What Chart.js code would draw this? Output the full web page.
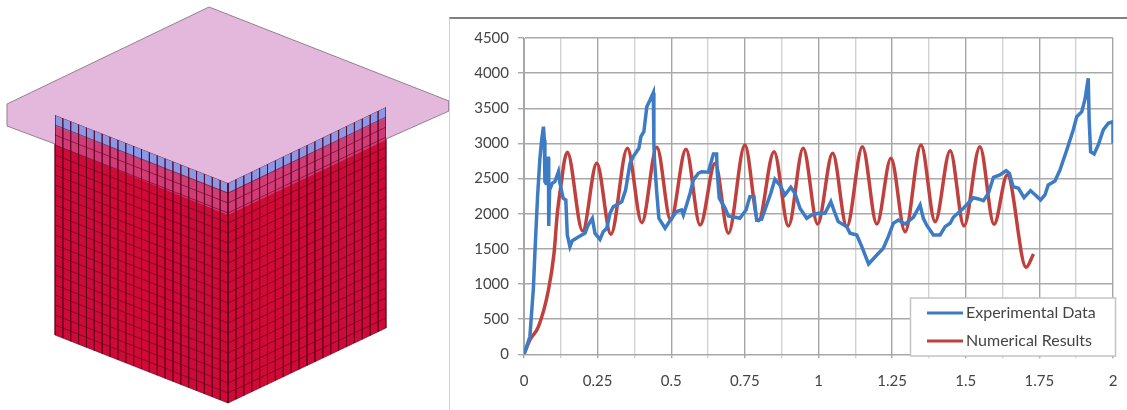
<!DOCTYPE html>
<html>
<head>
<meta charset="utf-8">
<script src="https://cdn.jsdelivr.net/npm/chart.js@4"></script>
<style>
  html, body { margin: 0; background: #fff; overflow: hidden; }
  #mesh { position: absolute; left: 0; top: 0; width: 449px; height: 410px; filter: blur(0.5px); }
  #frame { position: absolute; left: 449px; top: 17px; width: 678px; height: 393px;
           border-top: 2px solid #808080; border-left: 1px solid #d0d0d0; box-sizing: border-box; }
  #curves { position: absolute; left: 0; top: 0; width: 677px; height: 391px; filter: blur(0.4px); }
</style>
</head>
<body>
<div id="mesh"><canvas id="meshCanvas"></canvas></div>
<div id="frame"><div id="curves"><canvas id="curvesCanvas"></canvas></div></div>
<script>
// measured curves
var expTime = [0, .020, .032, .037, .046, .054, .060, .066, .069, .071, .075, .078, .083, .084, .087, .096, .105, .117, .122, .133, .142, .147, .156, .164, .186, .196, .207, .218, .232, .241, .258, .269, .281, .292, .303, .315, .332, .345, .360, .371, .390, .397, .407, .417, .428, .439, .441, .443, .451, .458, .466, .479, .501, .518, .535, .541, .552, .564, .575, .592, .603, .626, .639, .643, .654, .656, .663, .683, .694, .717, .733, .754, .767, .781, .790, .807, .824, .838, .852, .869, .886, .906, .920, .937, .960, .977, .999, 1.022, 1.042, 1.054, 1.067, 1.096, 1.107, 1.130, 1.147, 1.170, 1.198, 1.220, 1.237, 1.254, 1.271, 1.294, 1.322, 1.345, 1.356, 1.367, 1.390, 1.413, 1.430, 1.447, 1.458, 1.492, 1.526, 1.543, 1.560, 1.577, 1.594, 1.616, 1.637, 1.648, 1.661, 1.679, 1.698, 1.720, 1.739, 1.754, 1.769, 1.780, 1.803, 1.820, 1.843, 1.865, 1.877, 1.894, 1.905, 1.916, 1.919, 1.924, 1.936, 1.950, 1.967, 1.984, 2, 2];
var expForce = [0, 250, 950, 1440, 2243, 2789, 3050, 3239, 3050, 2456, 2430, 2789, 2789, 1826, 2338, 2433, 2456, 2598, 2433, 2220, 2196, 1698, 1531, 1617, 1673, 1698, 1722, 1840, 1935, 1722, 1636, 1745, 1793, 2006, 2100, 2125, 2172, 2338, 2718, 2812, 2931, 3096, 3168, 3523, 3618, 3722, 3002, 2764, 2291, 1935, 1880, 1793, 1935, 2030, 2053, 1982, 2125, 2291, 2480, 2575, 2598, 2590, 2789, 2850, 2850, 2598, 2220, 2078, 1968, 1950, 1935, 2053, 2243, 2243, 1911, 1921, 2125, 2291, 2490, 2409, 2267, 2376, 2291, 2078, 1935, 1982, 2006, 2006, 2172, 2030, 1887, 1816, 1722, 1698, 1531, 1285, 1413, 1508, 1673, 1864, 1911, 1854, 1950, 2125, 1935, 1840, 1698, 1698, 1816, 1864, 1950, 2078, 2228, 2210, 2186, 2291, 2519, 2551, 2612, 2575, 2385, 2362, 2228, 2328, 2257, 2196, 2267, 2409, 2466, 2623, 2907, 3192, 3381, 3452, 3629, 3927, 3334, 2883, 2850, 2978, 3192, 3287, 3310, 3000];

var numTime = [0, .020, .049, .083, .102, .113, .128, .137, .147, .199, .247, .295, .351, .400, .451, .498, .550, .598, .649, .694, .750, .796, .849, .898, .948, .997, 1.048, 1.096, 1.149, 1.198, 1.246, 1.294, 1.348, 1.396, 1.447, 1.494, 1.548, 1.596, 1.641, 1.705, 1.730];
var numForce = [0, 203, 393, 915, 1437, 2000, 2480, 2750, 2874, 1754, 2717, 1707, 2930, 1873, 2945, 1911, 2917, 1840, 2718, 1722, 2978, 1901, 2883, 1826, 2931, 1854, 2860, 1816, 2954, 1854, 2789, 1745, 2978, 1887, 2897, 1826, 2954, 1850, 2551, 1238, 1427];

var seriesNames = ['Experimental Data', 'Numerical Results'];
var seriesColors = ['#3d7cc4', '#c0403e'];

// block outline, in picture pixels
var leftFace = [[55, 115], [228, 183], [228, 403], [55, 335]];
var rightFace = [[228, 183], [386, 107], [386, 328], [228, 403]];
var blueLeft = [[55, 115], [228, 183], [228, 193], [55, 126]];
var blueRight = [[228, 183], [386, 107], [386, 118], [228, 193]];
var bandLeft = [[55, 126], [228, 193], [228, 215], [55, 145]];
var bandRight = [[228, 193], [386, 118], [386, 140], [228, 215]];
var plateShape = [[7, 104], [209, 7], [449, 101], [449, 111], [386, 139], [386, 107], [228, 183], [55, 115], [55, 144], [7, 126]];
var plateOutline = [[55, 144], [7, 126], [7, 104], [209, 7], [449, 101], [449, 111], [386, 139]];
var cellsLeft = 22, cellsRight = 20, cellRows = 22;

function xyPairs(xs, ys) {
  return xs.map(function (x, i) { return { x: x, y: ys[i] }; });
}

function toPoints(corners) {
  return corners.map(function (c) { return { x: c[0], y: c[1] }; });
}

function polygon(corners, color) {
  return { data: toPoints(corners.concat([corners[0]])), showLine: true, fill: 'shape', backgroundColor: color,
           borderColor: color, borderWidth: 0, pointRadius: 0, tension: 0 };
}

function gridLines(face, nx, ny) {
  var a = face[0], b = face[1], c = face[2], d = face[3];
  var pts = [];
  function lerp(p, q, t) { return { x: p[0] + (q[0] - p[0]) * t, y: p[1] + (q[1] - p[1]) * t }; }
  for (var i = 0; i <= nx; i++) {
    pts.push(lerp(a, b, i / nx), lerp(d, c, i / nx), { x: null, y: null });
  }
  for (var j = 0; j <= ny; j++) {
    pts.push(lerp(a, d, j / ny), lerp(b, c, j / ny), { x: null, y: null });
  }
  return pts;
}

function meshSet(face, nx, ny) {
  return { data: gridLines(face, nx, ny), showLine: true, fill: false, spanGaps: false,
           borderColor: 'rgba(90, 0, 30, 0.6)', borderWidth: 1, pointRadius: 0, tension: 0 };
}

var meshLayers = [
  polygon(leftFace, '#d00a36'),
  polygon(rightFace, '#cf0a36'),
  polygon(bandLeft, '#d23c76'),
  polygon(bandRight, '#d23c76'),
  polygon(blueLeft, '#8b98e6'),
  polygon(blueRight, '#8b98e6'),
  meshSet(leftFace, cellsLeft, cellRows),
  meshSet(rightFace, cellsRight, cellRows),
  polygon(plateShape, '#e3b8dc'),
  { data: toPoints(plateOutline), showLine: true, fill: false, borderColor: '#93808f', borderWidth: 1, pointRadius: 0, tension: 0 }
];
// last in the list goes on top
meshLayers.forEach(function (ds, i) { ds.order = meshLayers.length - i; });

new Chart(document.getElementById('meshCanvas'), {
  type: 'scatter',
  data: { datasets: meshLayers },
  options: {
    responsive: true,
    maintainAspectRatio: false,
    animation: false,
    layout: { padding: 0 },
    plugins: { legend: { display: false }, tooltip: { enabled: false } },
    scales: {
      x: { type: 'linear', display: false, min: 0, max: 449 },
      y: { type: 'linear', display: false, min: 0, max: 410, reverse: true }
    }
  }
});

// legend sits over the plot, with its own box
var boxLegend = {
  id: 'boxLegend',
  afterDatasetsDraw: function (chart) {
    var ctx = chart.ctx;
    ctx.save();
    ctx.fillStyle = '#fff';
    ctx.strokeStyle = '#c4c4c4';
    ctx.lineWidth = 1.5;
    ctx.fillRect(460.5, 279, 205, 58);
    ctx.strokeRect(460.5, 279, 205, 58);
    ctx.font = '16px Lato';
    ctx.textBaseline = 'middle';
    chart.data.datasets.forEach(function (ds, i) {
      var y = 294 + i * 28;
      ctx.strokeStyle = ds.borderColor;
      ctx.lineWidth = 3;
      ctx.beginPath();
      ctx.moveTo(477, y);
      ctx.lineTo(513, y);
      ctx.stroke();
      ctx.fillStyle = '#444';
      ctx.fillText(ds.label, 516, y);
    });
    ctx.restore();
  }
};

new Chart(document.getElementById('curvesCanvas'), {
  type: 'line',
  data: {
    datasets: [
      { label: seriesNames[0], data: xyPairs(expTime, expForce), borderColor: seriesColors[0],
        backgroundColor: seriesColors[0], borderWidth: 3.5, pointRadius: 0, tension: 0 },
      { label: seriesNames[1], data: xyPairs(numTime, numForce), borderColor: seriesColors[1],
        backgroundColor: seriesColors[1], borderWidth: 3.5, pointRadius: 0, cubicInterpolationMode: 'monotone' }
    ]
  },
  options: {
    responsive: true,
    maintainAspectRatio: false,
    animation: false,
    layout: { padding: { top: 19, right: 14, left: 0, bottom: 0 } },
    plugins: { legend: { display: false }, tooltip: { enabled: false } },
    scales: {
      x: {
        type: 'linear',
        min: 0,
        max: 2,
        // tick padding would otherwise eat into the right side of the plot
        afterFit: function (s) { s.height = 55.7; s.paddingRight = 0; s.paddingLeft = 0; },
        ticks: {
          stepSize: 0.125,
          autoSkip: false,
          maxRotation: 0,
          padding: 14,
          color: '#444',
          font: { family: 'Lato', size: 15 },
          callback: function (v) { return v % 0.25 === 0 ? String(v) : ''; }
        },
        grid: {
          tickLength: 4,
          lineWidth: 1.4,
          color: function (c) { return c.tick && c.tick.value % 0.25 === 0 ? '#a6a6a6' : '#d2d2d2'; }
        },
        border: { color: '#a6a6a6' }
      },
      y: {
        type: 'linear',
        min: 0,
        max: 4500,
        afterFit: function (s) { s.width = 74; },
        ticks: {
          stepSize: 500,
          padding: 9,
          color: '#444',
          font: { family: 'Lato', size: 15 },
          callback: function (v) { return String(v); }
        },
        grid: { tickLength: 6, lineWidth: 1.4, color: '#a9a9a9' },
        border: { color: '#a6a6a6' }
      }
    }
  },
  plugins: [boxLegend]
});
</script>
</body>
</html>
